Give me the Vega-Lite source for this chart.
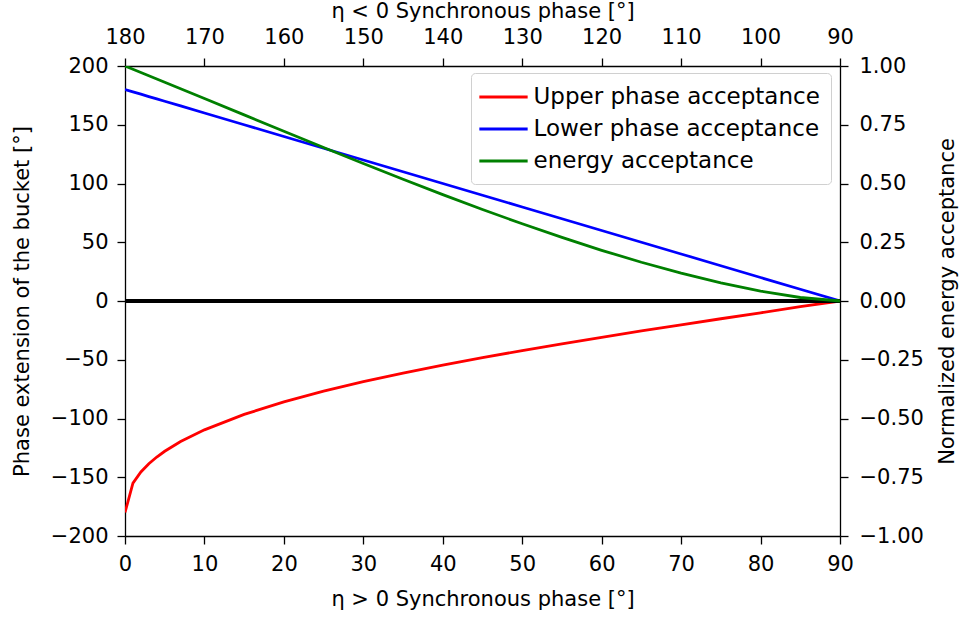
{
  "$schema": "https://vega.github.io/schema/vega-lite/v6.json",
  "width": 715,
  "height": 470,
  "autosize": {"type": "none"},
  "padding": {"left": 125, "top": 66, "right": 123, "bottom": 83},
  "background": "white",
  "datasets": {
    "curves": [
      {"phi": 0, "upper": -180, "lower": 180, "energy": 1.0},
      {"phi": 1, "upper": -154.95, "lower": 178, "energy": 0.98628},
      {"phi": 2, "upper": -145.47, "lower": 176, "energy": 0.97252},
      {"phi": 3, "upper": -138.49, "lower": 174, "energy": 0.95873},
      {"phi": 4, "upper": -132.79, "lower": 172, "energy": 0.94491},
      {"phi": 5, "upper": -127.89, "lower": 170, "energy": 0.93107},
      {"phi": 7, "upper": -119.64, "lower": 166, "energy": 0.90333},
      {"phi": 10, "upper": -109.65, "lower": 160, "energy": 0.8616},
      {"phi": 15, "upper": -96.51, "lower": 150, "energy": 0.79192},
      {"phi": 20, "upper": -85.88, "lower": 140, "energy": 0.72238},
      {"phi": 25, "upper": -76.76, "lower": 130, "energy": 0.65335},
      {"phi": 30, "upper": -68.68, "lower": 120, "energy": 0.58517},
      {"phi": 35, "upper": -61.36, "lower": 110, "energy": 0.51823},
      {"phi": 40, "upper": -54.56, "lower": 100, "energy": 0.45289},
      {"phi": 45, "upper": -48.19, "lower": 90, "energy": 0.38955},
      {"phi": 50, "upper": -42.18, "lower": 80, "energy": 0.32862},
      {"phi": 55, "upper": -36.41, "lower": 70, "energy": 0.27053},
      {"phi": 60, "upper": -30.87, "lower": 60, "energy": 0.21575},
      {"phi": 65, "upper": -25.5, "lower": 50, "energy": 0.16482},
      {"phi": 70, "upper": -20.24, "lower": 40, "energy": 0.11834},
      {"phi": 75, "upper": -15.1, "lower": 30, "energy": 0.07707},
      {"phi": 80, "upper": -10.04, "lower": 20, "energy": 0.04202},
      {"phi": 85, "upper": -4.79, "lower": 10, "energy": 0.0149},
      {"phi": 90, "upper": 0, "lower": 0, "energy": 0}
    ],
    "topaxis": [{"top": 180}, {"top": 90}]
  },
  "layer": [
    {
      "data": {"name": "curves"},
      "layer": [
        {
          "mark": {"type": "line", "strokeWidth": 2.8, "clip": true},
          "encoding": {
            "x": {"field": "phi", "type": "quantitative",
                  "scale": {"domain": [0, 90], "nice": false, "zero": false},
                  "axis": {"orient": "bottom", "values": [0,10,20,30,40,50,60,70,80,90], "title": "η > 0 Synchronous phase [°]", "labelPadding": 9, "titlePadding": 14}},
            "y": {"field": "upper", "type": "quantitative",
                  "scale": {"domain": [-200, 200], "nice": false},
                  "axis": {"orient": "left", "values": [-200,-150,-100,-50,0,50,100,150,200], "title": "Phase extension of the bucket [°]", "labelPadding": 9, "titlePadding": 18}},
            "color": {"datum": "Upper phase acceptance",
                      "scale": {"domain": ["Upper phase acceptance", "Lower phase acceptance", "energy acceptance"], "range": ["#ff0000", "#0000ff", "#008000"]},
                      "legend": {"title": null, "orient": "none", "legendX": 346, "legendY": 7}}
          }
        },
        {
          "mark": {"type": "line", "strokeWidth": 2.8, "clip": true},
          "encoding": {
            "x": {"field": "phi", "type": "quantitative"},
            "y": {"field": "lower", "type": "quantitative"},
            "color": {"datum": "Lower phase acceptance"}
          }
        },
        {
          "mark": {"type": "rule", "color": "black", "strokeWidth": 3},
          "encoding": {"y": {"datum": 0}}
        }
      ]
    },
    {
      "data": {"name": "curves"},
      "mark": {"type": "line", "strokeWidth": 2.8, "clip": true},
      "encoding": {
        "x": {"field": "phi", "type": "quantitative", "scale": {"domain": [0, 90], "nice": false, "zero": false}, "axis": null},
        "y": {"field": "energy", "type": "quantitative",
              "scale": {"domain": [-1, 1], "nice": false},
              "axis": {"orient": "right", "values": [-1,-0.75,-0.5,-0.25,0,0.25,0.5,0.75,1], "format": ".2f", "title": "Normalized energy acceptance", "titleAngle": 270, "labelPadding": 11, "titlePadding": 34}},
        "color": {"datum": "energy acceptance"}
      }
    },
    {
      "data": {"name": "topaxis"},
      "mark": {"type": "rule", "opacity": 0},
      "encoding": {
        "x": {"field": "top", "type": "quantitative",
              "scale": {"domain": [90, 180], "reverse": true, "nice": false, "zero": false},
              "axis": {"orient": "top", "values": [180,170,160,150,140,130,120,110,100,90], "title": "η < 0 Synchronous phase [°]", "labelPadding": 11, "titlePadding": 5}}
      }
    }
  ],
  "resolve": {"scale": {"x": "independent", "y": "independent"}},
  "config": {
    "view": {"stroke": null},
    "font": "DejaVu Sans",
    "axis": {
      "grid": false,
      "domainColor": "black",
      "domainWidth": 1.3,
      "tickColor": "black",
      "tickWidth": 1.3,
      "tickSize": 8,
      "labelColor": "black",
      "labelFont": "DejaVu Sans",
      "labelFontSize": 21,
      "titleColor": "black",
      "titleFont": "DejaVu Sans",
      "titleFontSize": 21,
      "titleFontWeight": "normal",
      "labelFlush": false,
      "labelOverlap": false
    },
    "legend": {
      "labelFont": "DejaVu Sans",
      "labelFontSize": 23,
      "labelColor": "black",
      "symbolType": "M-2.1,0H2.1",
      "symbolSize": 529,
      "symbolStrokeWidth": 2.8,
      "symbolOffset": 8.5,
      "labelOffset": 17,
      "rowPadding": 7,
      "padding": 11,
      "fillColor": "white",
      "strokeColor": "#d0d0d0",
      "cornerRadius": 4,
      "labelLimit": 400
    }
  }
}
